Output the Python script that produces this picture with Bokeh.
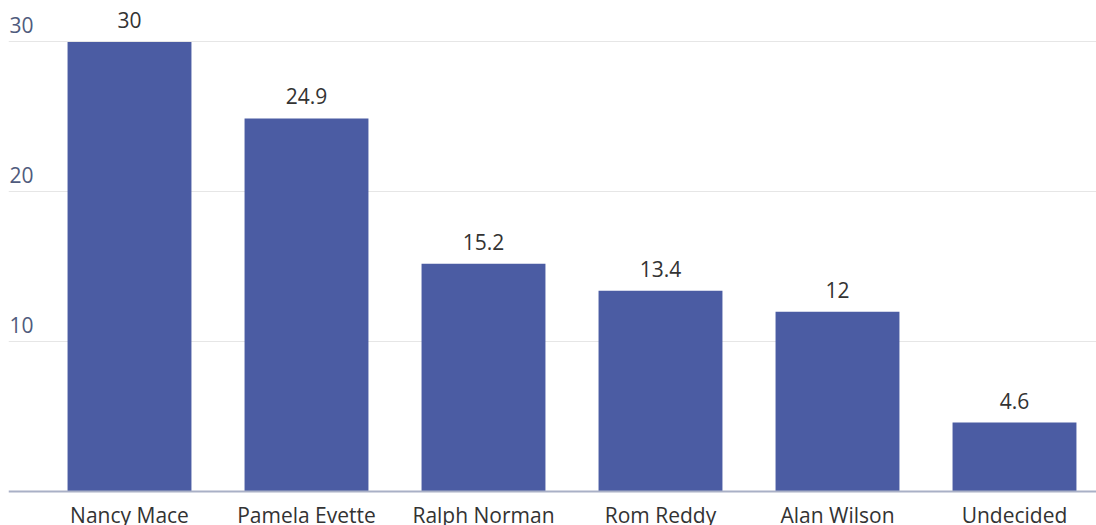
from bokeh.plotting import figure
from bokeh.models import Range1d, FixedTicker, ColumnDataSource, Span
from bokeh.core.properties import value
from bokeh.embed import file_html
from bokeh.resources import INLINE

categories = ["Nancy Mace", "Pamela Evette", "Ralph Norman", "Rom Reddy", "Alan Wilson", "Undecided"]
values = [30, 24.9, 15.2, 13.4, 12, 4.6]
y_ticks = [10, 20, 30]
y_tick_labels = ["10", "20", "30"]

FONT = "Open Sans"
idx = list(range(len(categories)))
x_start, x_end = -0.6836, 5.4633

src = ColumnDataSource(dict(x=idx, top=values, label=[f"{v:g}" for v in values]))

p = figure(width=1096, height=525, output_backend="svg", toolbar_location=None,
           x_range=Range1d(x_start, x_end), y_range=Range1d(-2.267, 32.767),
           min_border=0, min_border_left=8, min_border_right=0,
           min_border_top=0, min_border_bottom=0)
p.outline_line_color = None
p.background_fill_color = "white"
p.border_fill_color = "white"
p.xaxis.visible = False
p.yaxis.visible = False
p.xgrid.grid_line_color = None
p.ygrid.ticker = FixedTicker(ticks=y_ticks)
p.ygrid.grid_line_color = "#e6e6e6"
p.ygrid.grid_line_width = 1

p.vbar(x="x", top="top", width=0.70, bottom=0, source=src,
       fill_color="#4b5ca3", line_color=None)

p.add_layout(Span(location=0, dimension="width", line_color="#a9b0c6", line_width=2))

p.text(x="x", y="top", text="label", source=src, text_align="center",
       text_baseline="alphabetic", y_offset=-22, text_font=value(FONT),
       text_font_size="21px", text_color="#333333")

ysrc = ColumnDataSource(dict(x=[x_start] * len(y_ticks), y=y_ticks, t=y_tick_labels))
p.text(x="x", y="y", text="t", source=ysrc, text_align="left",
       text_baseline="alphabetic", x_offset=1, y_offset=-17, text_font=value(FONT),
       text_font_size="21px", text_color="#4f5b7d")

xsrc = ColumnDataSource(dict(x=idx, y=[0] * len(idx), t=categories))
p.text(x="x", y="y", text="t", source=xsrc, text_align="center",
       text_baseline="alphabetic", y_offset=23, text_font=value(FONT),
       text_font_size="21px", text_color="#333333")

open("out.html", "w").write(file_html(p, INLINE))
